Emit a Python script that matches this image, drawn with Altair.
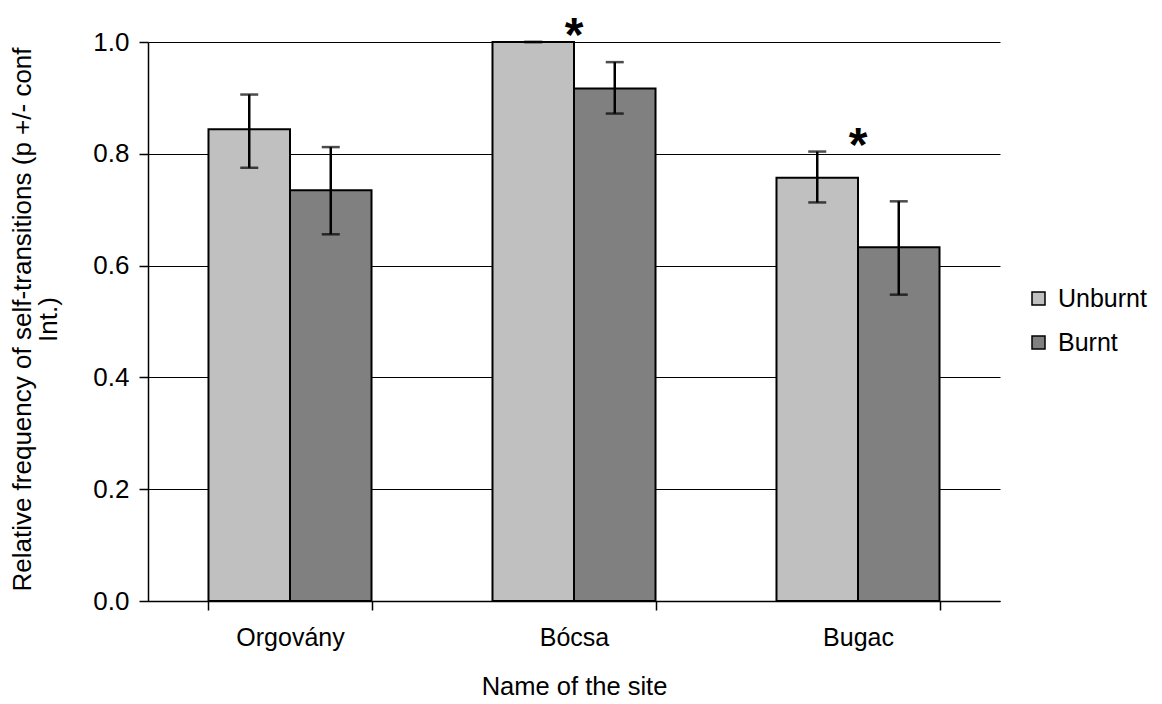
import altair as alt
import pandas as pd

sites = ["Orgovány", "Bócsa", "Bugac"]
groups = ["Unburnt", "Burnt"]

site_col = ["Orgovány", "Orgovány", "Bócsa", "Bócsa", "Bugac", "Bugac"]
group_col = ["Unburnt", "Burnt", "Unburnt", "Burnt", "Unburnt", "Burnt"]
values = [0.844, 0.735, 1.000, 0.917, 0.757, 0.633]
err_low = [0.775, 0.656, 1.000, 0.872, 0.713, 0.548]
err_high = [0.906, 0.812, 1.000, 0.964, 0.804, 0.715]

star_sites = ["Bócsa", "Bugac"]
star_y = [1.000, 0.804]
star_text = ["*", "*"]

y_ticks = [0.0, 0.2, 0.4, 0.6, 0.8, 1.0]
colors = ["#C0C0C0", "#808080"]

df = pd.DataFrame({
    "site": site_col,
    "group": group_col,
    "value": values,
    "lo": err_low,
    "hi": err_high,
})
stars = pd.DataFrame({"site": star_sites, "y": star_y, "t": star_text})

FONT = "Liberation Sans"

x_enc = alt.X(
    "site:N",
    sort=sites,
    scale=alt.Scale(paddingInner=0.426, paddingOuter=0.213),
    axis=alt.Axis(
        title="Name of the site",
        labelAngle=0,
        tickBand="extent",
        tickSize=9,
        labelPadding=15,
        labelFontSize=25,
        titleFontSize=25.5,
        titleFontWeight="normal",
        titleBaseline="alphabetic",
        titleY=93,
        labelColor="#000000",
        titleColor="#000000",
        domainColor="#000000",
        tickColor="#000000",
        domainWidth=1.5,
        tickWidth=1.5,
        grid=False,
    ),
)
xoff = alt.XOffset("group:N", sort=groups, scale=alt.Scale(paddingInner=0, paddingOuter=0))
y_scale = alt.Scale(domain=[0, 1], nice=False)

bars = alt.Chart(df).mark_bar(stroke="black", strokeWidth=2).encode(
    x=x_enc,
    xOffset=xoff,
    y=alt.Y(
        "value:Q",
        scale=y_scale,
        axis=alt.Axis(
            values=y_ticks,
            format=".1f",
            title=["Relative frequency of self-transitions (p +/- conf", "Int.)"],
            titleFontSize=26,
            titleFontWeight="normal",
            titleLineHeight=26,
            titleBaseline="alphabetic",
            titleX=-117.5,
            titleY=277,
            titleAlign="center",
            titleAngle=270,
            labelFontSize=26,
            labelPadding=10,
            tickSize=9,
            labelColor="#000000",
            titleColor="#000000",
            domainColor="#000000",
            tickColor="#000000",
            gridColor="#000000",
            gridWidth=1,
            domainWidth=1.5,
            tickWidth=1.5,
        ),
    ),
    color=alt.Color(
        "group:N",
        sort=groups,
        scale=alt.Scale(domain=groups, range=colors),
        legend=alt.Legend(
            title=None,
            orient="none",
            legendX=878,
            legendY=244,
            padding=0,
            symbolType="square",
            symbolSize=169,
            symbolStrokeColor="black",
            symbolStrokeWidth=1.5,
            symbolOpacity=1,
            labelFontSize=25,
            labelColor="#000000",
            labelOffset=7,
            rowPadding=18,
        ),
    ),
)

rules = alt.Chart(df).mark_rule(color="black", strokeWidth=2.5).encode(
    x=alt.X("site:N", sort=sites),
    xOffset=xoff,
    y=alt.Y("lo:Q", scale=y_scale),
    y2="hi:Q",
)
cap_lo = alt.Chart(df).mark_tick(color="black", thickness=2.5, size=18, orient="horizontal").encode(
    x=alt.X("site:N", sort=sites),
    xOffset=xoff,
    y=alt.Y("lo:Q", scale=y_scale),
)
cap_hi = alt.Chart(df).mark_tick(color="black", thickness=2.5, size=18, orient="horizontal").encode(
    x=alt.X("site:N", sort=sites),
    xOffset=xoff,
    y=alt.Y("hi:Q", scale=y_scale),
)
star_marks = alt.Chart(stars).mark_text(
    fontSize=48, font=FONT, fontWeight="bold", baseline="alphabetic", align="center", dy=9, color="black"
).encode(
    x=alt.X("site:N", sort=sites),
    y=alt.Y("y:Q", scale=y_scale),
    text="t:N",
)

chart = alt.layer(bars, rules, cap_lo, cap_hi, star_marks).properties(
    width=852,
    height=559,
    autosize=alt.AutoSizeParams(type="none"),
    padding={"left": 140, "top": 34, "right": 154, "bottom": 100},
).configure(font=FONT).configure_view(stroke=None)

chart.save("out.html", embed_options={"renderer": "svg", "actions": False})
